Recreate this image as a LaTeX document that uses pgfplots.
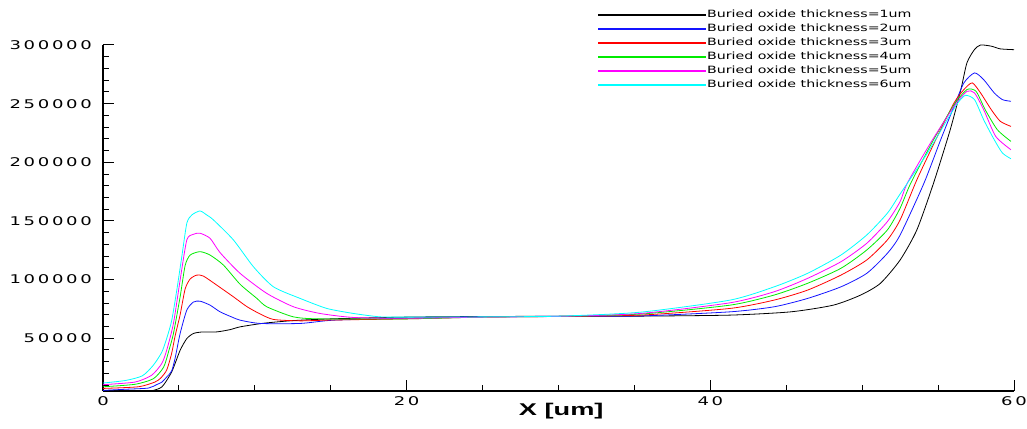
\documentclass[border=0pt]{standalone}
\usepackage{pgfplots}
\pgfplotsset{compat=1.18}
\usepackage{graphicx}
\usepackage{fontspec}
\setmainfont{DejaVu Sans}
\newfontfamily\tickfont[LetterSpace=15]{DejaVu Sans}
\newfontfamily\labfont{Liberation Sans}
\definecolor{cBlue}{RGB}{20,20,255}
\definecolor{cRed}{RGB}{255,0,0}
\definecolor{cGreen}{RGB}{0,235,0}
\definecolor{cMag}{RGB}{255,0,255}
\definecolor{cCyan}{RGB}{0,255,255}
\newcommand\tk[1]{\scalebox{1.5}[1]{\fontsize{12}{12}\tickfont #1}}
\newcommand\legtxt[1]{\scalebox{1.42}[1]{\fontsize{10}{10}\selectfont Buried oxide thickness=#1um}}
\begin{document}
\begin{tikzpicture}
\useasboundingbox (-103pt,-37pt) rectangle (924pt,391pt);
\begin{axis}[
  at={(0pt,0pt)}, anchor=south west,
  scale only axis, width=911pt, height=346pt,
  xmin=0, xmax=60, ymin=5000, ymax=300000,
  scaled ticks=false,
  axis x line=bottom, axis y line=left,
  axis line style={-, line width=1.5pt},
  tick align=inside,
  xtick={0,20,40,60}, xticklabels={\tk{0},\tk{20},\tk{40},\tk{60}},
  minor xtick={5,10,15,25,30,35,45,50,55},
  ytick={50000,100000,150000,200000,250000,300000},
  yticklabels={\tk{50000},\tk{100000},\tk{150000},\tk{200000},\tk{250000},\tk{300000}},
  minor ytick={10000,20000,30000,40000,60000,70000,80000,90000,110000,120000,130000,140000,160000,170000,180000,190000,210000,220000,230000,240000,260000,270000,280000,290000},
  major tick length=11pt, minor tick length=6pt,
  tick style={black, line width=1pt},
  yticklabel style={inner sep=0pt, xshift=-11pt},
  xticklabel style={inner sep=0pt, yshift=-5pt},
  xlabel={\scalebox{1.6}[1]{\fontsize{17}{17}\labfont\bfseries X [um]}},
  xlabel style={at={(axis description cs:0.503,0)}, anchor=north, inner sep=0pt, yshift=-12pt},
  legend style={at={(axis description cs:0.5434,1.107)}, anchor=north west,
    draw=none, fill=none, inner sep=0pt, row sep=0pt, column sep=0pt,
    nodes={inner xsep=1pt, inner ysep=0pt, text height=9.5pt, text depth=4.5pt}},
  legend cell align=left,
  legend image code/.code={\fill[#1] (0pt,-0.45pt) rectangle (107pt,0.45pt);},
  every axis plot/.append style={line width=0.8pt, smooth, tension=0.4},
]
\addplot[color=black] coordinates {
(0,3000) (2.5,3800) (3.1,4800) (3.87,8400) (4.52,21200) (5.08,39700) (5.52,49700) (5.95,54000) (6.5,55300) (7.5,55400) (8.4,57400) (9.03,59700) (10.6,62800) (12.5,65000) (15,66500) (20,68000) (25,68500) (30,68700) (35,68800) (41.3,69700) (45.3,72500) (48.1,78200) (49.9,86800) (51.2,96800) (52.5,116700) (53.6,142300) (54.7,182200) (55.8,227800) (56.5,262000) (56.9,284800) (57.4,296200) (57.8,300000) (58.5,299000) (59.1,296700) (60,296000)};
\addlegendentry{\legtxt{1}}
\addplot[color=cBlue] coordinates {
(0,5500) (1.5,6500) (2.99,7500) (3.54,10500) (3.87,12500) (4.2,17000) (4.52,22000) (4.75,33000) (5.08,54000) (5.52,74000) (5.95,80800) (6.39,81600) (7.05,78200) (7.71,72500) (8.5,68000) (9.03,65400) (10.35,62600) (13,62600) (15.2,65400) (20,67000) (25,68300) (30,68700) (35.4,69000) (41.3,72500) (44.2,76800) (46.4,83900) (48.6,93800) (50.3,105300) (51.66,122400) (52.5,138000) (54.07,182200) (55.17,219200) (56.05,247700) (56.7,267700) (57.4,276200) (58.0,270500) (58.7,259100) (59.24,253400) (59.8,252000)};
\addlegendentry{\legtxt{2}}
\addplot[color=cRed] coordinates {
(0,7200) (2.33,8600) (3.41,12600) (3.8,16000) (4.2,23000) (4.52,37000) (4.75,52000) (5.08,70000) (5.41,92000) (5.74,100500) (6.17,103800) (6.61,103000) (7.49,95300) (8.59,85300) (9.47,77000) (10.3,71000) (11.23,66000) (13,64800) (15,65500) (20,66500) (25,68000) (30,68600) (35.4,69700) (41.3,75400) (44.2,82500) (46.4,91000) (48.6,103800) (50.3,116700) (51.66,133800) (52.5,150900) (53.6,185000) (54.95,222000) (56.05,250600) (56.7,262000) (57.25,267700) (57.8,259100) (58.5,244900) (59.1,234900) (59.8,230600)};
\addlegendentry{\legtxt{3}}
\addplot[color=cGreen] coordinates {
(0,8600) (2.1,10700) (3.32,15500) (4.0,25500) (4.35,40000) (4.64,54000) (5.08,85300) (5.41,112000) (5.74,120900) (6.39,123800) (7.05,120900) (7.93,112400) (9.03,96000) (10.13,84000) (10.79,76800) (12.55,68200) (14.3,66500) (20,66500) (25,68000) (30,68600) (35.4,70600) (41.3,78200) (44.2,86800) (46.4,96800) (48.6,109600) (50.3,125200) (51.66,142300) (52.5,160900) (53.2,182200) (54.7,219200) (56.05,249100) (56.9,262000) (57.5,260500) (58.1,244900) (58.9,227800) (59.8,217800)};
\addlegendentry{\legtxt{4}}
\addplot[color=cMag] coordinates {
(0,10400) (2.1,12600) (3.2,18400) (3.87,28400) (4.2,40000) (4.64,62600) (5.08,99600) (5.52,133800) (5.95,138600) (6.39,139500) (7.05,135200) (7.71,123000) (9.03,105300) (10.79,88200) (12.55,76800) (14.3,71100) (16.5,67700) (20,67000) (25,68000) (30,68600) (35.4,71100) (41.3,80200) (44.2,89600) (46.4,101000) (48.6,115200) (50.3,130900) (51.66,149400) (52.5,166500) (52.97,182200) (54.5,216400) (56.05,247700) (56.9,260500) (57.4,259100) (58.0,244900) (58.8,222000) (59.8,210700)};
\addlegendentry{\legtxt{5}}
\addplot[color=cCyan] coordinates {
(0,11800) (1.5,14000) (2.6,18000) (3.31,26900) (3.87,38000) (4.2,50000) (4.53,65400) (4.86,91000) (5.19,119500) (5.52,148000) (5.85,155100) (6.39,158500) (6.83,155100) (7.27,150900) (8.59,133800) (9.91,110900) (11.23,93800) (12.99,83900) (14.74,75400) (16.5,71100) (18.26,68200) (20,68000) (25,68200) (30,68800) (35.4,72200) (41.3,82500) (44.2,93800) (46.4,105300) (48.6,120900) (50.3,138000) (51.66,156600) (52.5,173000) (54.3,207900) (55.6,236300) (56.3,250600) (56.8,257100) (57.4,253400) (58.0,236300) (58.7,219200) (59.24,207900) (59.8,203000)};
\addlegendentry{\legtxt{6}}
\end{axis}
\end{tikzpicture}
\end{document}
